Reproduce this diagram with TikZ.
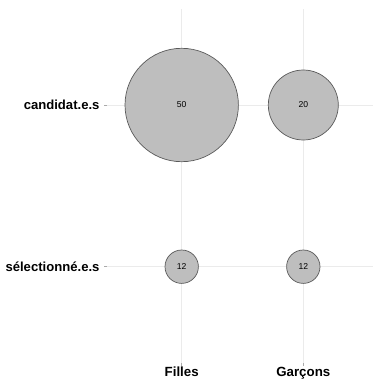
\documentclass[tikz,border=0pt]{standalone}
\usepackage{fontspec}
\setmainfont{Liberation Sans}
\definecolor{gridc}{HTML}{EBEBEB}
\definecolor{fillc}{HTML}{BEBEBE}
\definecolor{edgec}{HTML}{5A5A5A}
\definecolor{tickc}{HTML}{AAAAAA}
\begin{document}
\begin{tikzpicture}[x=1pt,y=-1pt,
  grid/.style={draw=gridc,line width=0.9pt},
  tk/.style={draw=tickc,line width=0.6pt},
  bubble/.style={circle,draw=edgec,fill=fillc,line width=0.7pt,inner sep=0pt,font=\fontsize{8.6}{9}\selectfont},
  ylab/.style={anchor=east,font=\bfseries\fontsize{13.1}{15}\selectfont},
  xlab/.style={anchor=base,font=\bfseries\fontsize{13.3}{15}\selectfont}]
\useasboundingbox (0,0) rectangle (373,380);
% grid
\coordinate (hl1) at (107,105);   \coordinate (hr1) at (373,105);
\coordinate (hl2) at (107,266.7); \coordinate (hr2) at (373,266.7);
\coordinate (vt1) at (181.7,9);   \coordinate (vb1) at (181.7,363);
\coordinate (vt2) at (303.3,9);   \coordinate (vb2) at (303.3,363);
\draw[grid] (hl1) -- (hr1);
\draw[grid] (hl2) -- (hr2);
\draw[grid] (vt1) -- (vb1);
\draw[grid] (vt2) -- (vb2);
% ticks
\coordinate (t1) at (104,105);   \coordinate (t2) at (104,266.7);
\coordinate (t3) at (181.7,366); \coordinate (t4) at (303.3,366);
\draw[tk] (t1) -- (hl1);
\draw[tk] (t2) -- (hl2);
\draw[tk] (vb1) -- (t3);
\draw[tk] (vb2) -- (t4);
% bubbles
\node[bubble,minimum size=113.4pt] (fc) at (181.7,105) {50};
\node[bubble,minimum size=70pt] (gc) at (303.3,105) {20};
\node[bubble,minimum size=33.4pt] (fs) at (181.7,266.7) {12};
\node[bubble,minimum size=33.4pt] (gs) at (303.3,266.7) {12};
% labels
\node[ylab] (lc) at (103,105) {candidat.e.s};
\node[ylab] (ls) at (103,266.7) {sélectionné.e.s};
\node[xlab] (lf) at (181.7,376.5) {Filles};
\node[xlab] (lg) at (303.3,376.5) {Garçons};
\end{tikzpicture}
\end{document}
